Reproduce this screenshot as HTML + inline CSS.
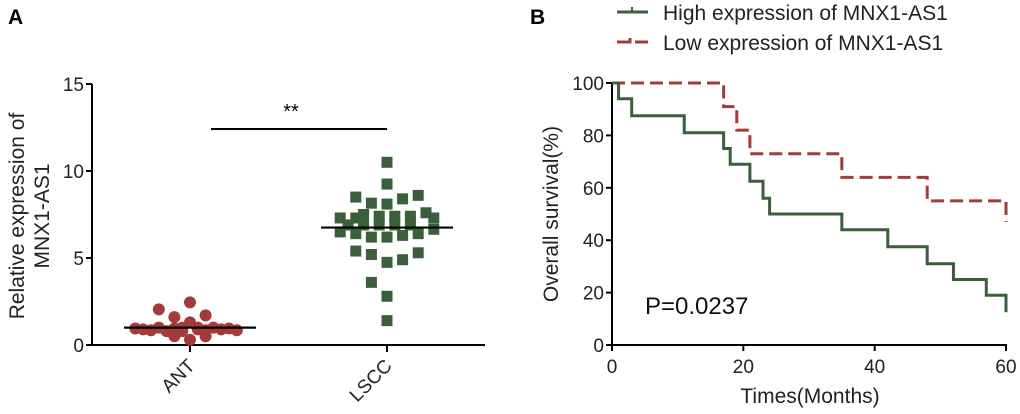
<!DOCTYPE html>
<html><head><meta charset="utf-8"><style>
body{margin:0;background:#fff;}
svg{display:block;font-family:"Liberation Sans",Arial,sans-serif;}
</style></head><body>
<svg id="c" width="1020" height="414" viewBox="0 0 1020 414"></svg>
<script>
// Panel A data
const antValues=[2.45,2.05,1.7,1.6,1.3,0.95,0.9,0.85,1.0,0.8,0.95,1.0,0.9,0.85,1.0,0.9,0.95,0.85,0.3,0.5,0.5,0.8,1.0];
const antJitter=[0,-4,2,-2,0,-7,-6,-5,-4,-3,-2,-1,1,2,3,4,5,6,0,2,-2,-1,1];
const lsccValues=[10.5,9.25,8.5,8.15,8.1,8.4,8.6,7.3,7.3,7.5,7.4,7.4,7.4,7.6,7.3,6.5,6.4,6.2,6.2,6.3,6.4,6.65,6.9,6.9,6.9,6.9,6.9,5.4,5.2,4.75,4.9,5.3,3.6,2.8,1.4];
const lsccJitter=[0,0,-4,-2,0,2,4,-6,-4,-3,-1,1,3,5,6,-6,-4,-2,0,2,4,6,-5,-3,-1,1,3,-4,-2,0,2,4,-2,0,0];
const groupMeans=[1.0,6.75];
const categories=["ANT","LSCC"];
const yTicksA=[0,5,10,15];
// Panel B data
const highTimes=[0,1,3,11,17,18,21,23,24,35,42,48,52,57,60];
const highSurv=[100,94,87.5,81,75,69,62.5,56,50,44,37.5,31,25,19,12.5];
const lowTimes=[0,17,19,21,35,48,60];
const lowSurv=[100,91,82,73,64,55,47];
const xTicksB=[0,20,40,60];
const yTicksB=[0,20,40,60,80,100];

const svg=document.getElementById('c');
const NS='http://www.w3.org/2000/svg';
function mk(tag,attrs,parent){const e=document.createElementNS(NS,tag);for(const k in attrs)e.setAttribute(k,attrs[k]);(parent||svg).appendChild(e);return e;}
function txt(s,attrs,parent){const e=mk('text',attrs,parent);e.textContent=s;return e;}

// ===== Panel A =====
const yA=v=>345-v*(261/15);
const catX=[190,387];
const jit=7.8;
const gA=mk('g',{});


let t=txt('A',{x:8,y:24,'font-size':21,'font-weight':'bold'},gA);

let l=mk('line',{x1:92,y1:84,x2:92,y2:346,stroke:'#000','stroke-width':2},gA);

l=mk('line',{x1:91,y1:345,x2:485,y2:345,stroke:'#000','stroke-width':2},gA);

yTicksA.forEach(v=>{
  const y=yA(v);
  let tk=mk('line',{x1:86,y1:y,x2:92,y2:y,stroke:'#000','stroke-width':2},gA);
  
  let tl=txt(String(v),{x:84,y:y+7,'font-size':19,'text-anchor':'end',fill:'#222'},gA);
  
});
categories.forEach((c,i)=>{
  const x=catX[i];
  let tk=mk('line',{x1:x,y1:345,x2:x,y2:352,stroke:'#000','stroke-width':2},gA);
  
  let tl=txt(c,{x:x+6,y:367,'font-size':19,'text-anchor':'end',fill:'#222',transform:`rotate(-45 ${x+6} 367)`},gA);
  
});
let yl=txt('Relative expression of',{x:0,y:0,'font-size':21,'text-anchor':'middle',fill:'#222',transform:'translate(24 216) rotate(-90)'},gA);

yl=txt('MNX1-AS1',{x:0,y:0,'font-size':21,'text-anchor':'middle',fill:'#222',transform:'translate(49 216) rotate(-90)'},gA);

antValues.forEach((v,i)=>{
  const c=mk('circle',{cx:catX[0]+antJitter[i]*jit,cy:yA(v),r:6,fill:'#a33b3b'},gA);
  
});
lsccValues.forEach((v,i)=>{
  const r=mk('rect',{x:catX[1]+lsccJitter[i]*jit-5.5,y:yA(v)-5.5,width:11,height:11,fill:'#3a5f3a'},gA);
  
});
groupMeans.forEach((m,i)=>{
  const ml=mk('line',{x1:catX[i]-66,y1:yA(m),x2:catX[i]+66,y2:yA(m),stroke:'#000','stroke-width':2.2},gA);
  
});
l=mk('line',{x1:211,y1:129,x2:387,y2:129,stroke:'#000','stroke-width':2},gA);

t=txt('**',{x:291,y:118,'font-size':20,'text-anchor':'middle'},gA);


// ===== Panel B =====
const xB=v=>612+v*(394/60);
const yB=v=>345-v*2.62;
const gB=mk('g',{});


t=txt('B',{x:530,y:24,'font-size':21,'font-weight':'bold'},gB);

l=mk('line',{x1:612,y1:82,x2:612,y2:346,stroke:'#000','stroke-width':2},gB);

l=mk('line',{x1:611,y1:345,x2:1007,y2:345,stroke:'#000','stroke-width':2},gB);

yTicksB.forEach(v=>{
  const y=yB(v);
  let tk=mk('line',{x1:606,y1:y,x2:612,y2:y,stroke:'#000','stroke-width':2},gB);
  
  let tl=txt(String(v),{x:604,y:y+7,'font-size':19,'text-anchor':'end',fill:'#222'},gB);
  
});
xTicksB.forEach(v=>{
  const x=xB(v);
  let tk=mk('line',{x1:x,y1:345,x2:x,y2:351,stroke:'#000','stroke-width':2},gB);
  
  let tl=txt(String(v),{x:x,y:373,'font-size':19,'text-anchor':'middle',fill:'#222'},gB);
  
});
t=txt('Times(Months)',{x:810,y:403,'font-size':21,'text-anchor':'middle',fill:'#222'},gB);

t=txt('Overall survival(%)',{x:0,y:0,'font-size':21,'text-anchor':'middle',fill:'#222',transform:'translate(558 214) rotate(-90)'},gB);

function stepPath(ts,ss){
  let d=`M${xB(ts[0])},${yB(ss[0])}`;
  for(let i=1;i<ts.length;i++){d+=` H${xB(ts[i])} V${yB(ss[i])}`;}
  return d;
}
let p=mk('path',{d:stepPath(lowTimes,lowSurv),fill:'none',stroke:'#a33b3b','stroke-width':3,'stroke-dasharray':'13,6'},gB);

p=mk('path',{d:stepPath(highTimes,highSurv),fill:'none',stroke:'#3a5f3a','stroke-width':3},gB);

t=txt('P=0.0237',{x:645,y:314,'font-size':24,fill:'#111'},gB);

// legend
let lg=mk('g',{},gB);

l=mk('line',{x1:617,y1:12,x2:648,y2:12,stroke:'#3a5f3a','stroke-width':3},lg);

mk('line',{x1:632,y1:7,x2:632,y2:13,stroke:'#3a5f3a','stroke-width':2},lg);
t=txt('High expression of MNX1-AS1',{x:663,y:20,'font-size':21,fill:'#222'},lg);

l=mk('path',{d:'M617,42 H630 V38 M635,42 H648',fill:'none',stroke:'#a33b3b','stroke-width':3},lg);

t=txt('Low expression of MNX1-AS1',{x:663,y:50,'font-size':21,fill:'#222'},lg);

</script>
</body></html>
